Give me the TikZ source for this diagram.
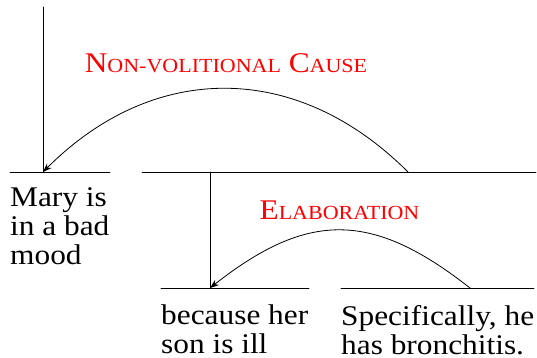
\documentclass[tikz,border=0pt]{standalone}
\usepackage{fontspec}
\setmainfont{Liberation Serif}[FakeStretch=1.1]
\usetikzlibrary{arrows.meta}
\newcommand{\fakesc}[1]{{\fontsize{20}{20}\selectfont #1}}

\begin{document}
\begin{tikzpicture}[yscale=-1, x=1pt, y=1pt, line join=round, line cap=round,
  span/.style={color=black, line width=0.8pt},
  rel/.style={color=black, line width=0.8pt, -{Stealth[length=9pt,width=6.5pt]}},
  edu/.style={anchor=north west, inner sep=0pt, align=left, font=\fontsize{28.5}{29}\selectfont},
  rellabel/.style={anchor=base, inner sep=0pt, text=relred, font=\fontsize{28.5}{29}\selectfont}]
% Colour of the relation names
\definecolor{relred}{rgb}{1,0,0}
\useasboundingbox (0,0) rectangle (537,358);
% Span end points
\coordinate (root) at (43,7);
\coordinate (sp1a) at (10,172);
\coordinate (sp1b) at (110,172);
\coordinate (nuc1) at (43,172);
\coordinate (sp23a) at (142,172);
\coordinate (sp23b) at (536,172);
\coordinate (nuc23) at (210,172);
\coordinate (sat1) at (408,172);
\coordinate (sp2a) at (161,288);
\coordinate (sp2b) at (309,288);
\coordinate (nuc2) at (210,288);
\coordinate (sp3a) at (341,288);
\coordinate (sp3b) at (534,288);
\coordinate (sat2) at (470,288);
% Spans
\draw[span] (sp1a) -- (sp1b);
\draw[span] (sp23a) -- (sp23b);
\draw[span] (sp2a) -- (sp2b);
\draw[span] (sp3a) -- (sp3b);
\draw[span] (root) -- (nuc1);
\draw[span] (nuc23) -- (nuc2);
% Relations
\draw[rel] (sat1) .. controls +(-111,-111) and +(111,-111) .. (nuc1);
\draw[rel] (sat2) .. controls +(-98,-77) and +(98,-77) .. (nuc2);
\node[rellabel] (cause) at (226,72.3) {N\fakesc{ON-VOLITIONAL} C\fakesc{AUSE}};
\node[rellabel] (elab) at (339.5,219.6) {E\fakesc{LABORATION}};
% Text segments
\node[edu] (mary) at (10,187.5) {Mary is\\in a bad\\mood};
\node[edu] (son) at (161,305) {because her\\son is ill};
\node[edu] (spec) at (341,305) {Specifically, he\\has bronchitis.};
\end{tikzpicture}
\end{document}
